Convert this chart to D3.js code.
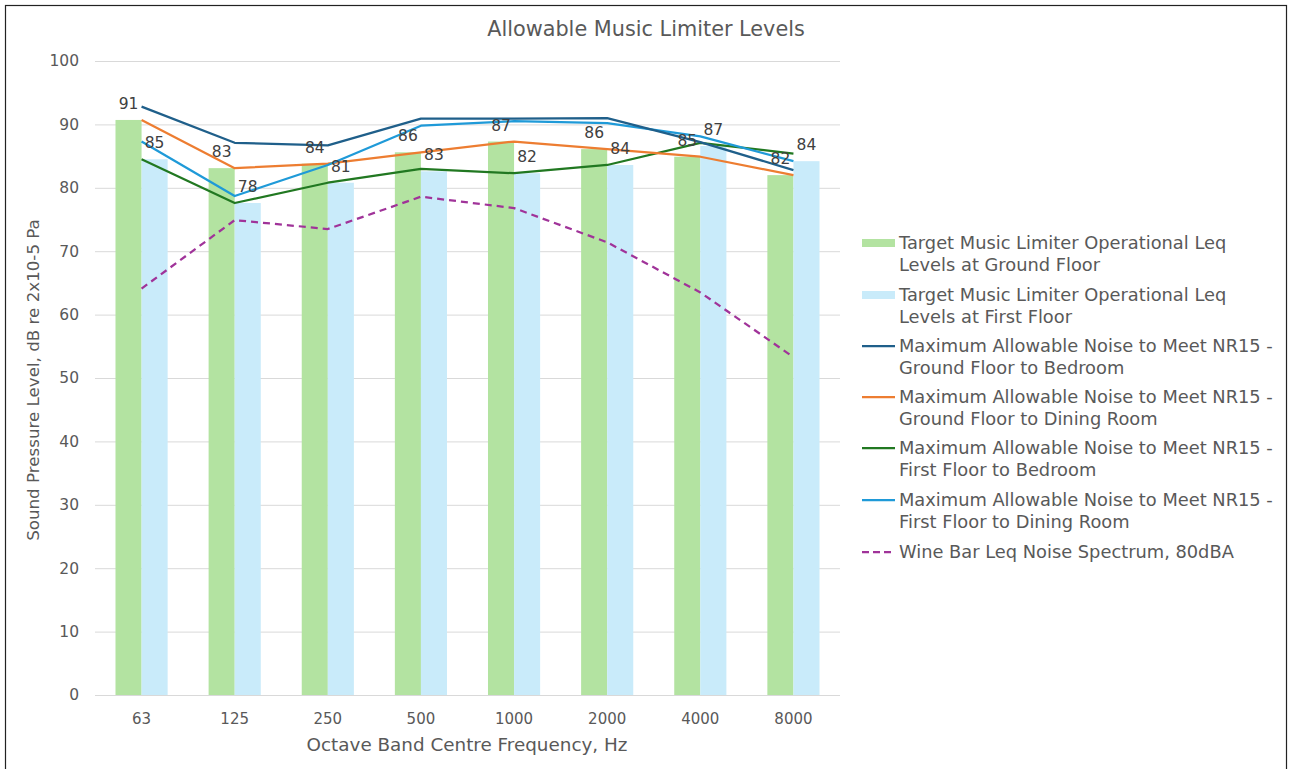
<!DOCTYPE html>
<html><head><meta charset="utf-8">
<script src="https://cdn.jsdelivr.net/npm/d3@7/dist/d3.min.js"></script>
<style>
html,body{margin:0;padding:0;background:#fff;}
svg{display:block;font-family:"DejaVu Sans",sans-serif;}
</style></head>
<body><svg id="c" width="1289" height="769"></svg>
<script>
const categories = ["63","125","250","500","1000","2000","4000","8000"];
const yTicks = [0,10,20,30,40,50,60,70,80,90,100];
const groundFloorTarget = [90.7, 83.1, 83.8, 85.6, 87.3, 86.1, 84.9, 82.0];
const firstFloorTarget  = [84.5, 77.6, 80.8, 82.6, 82.3, 83.6, 86.6, 84.2];
const gfBedroom   = [92.8, 87.1, 86.7, 90.9, 90.9, 91.0, 87.2, 82.8];
const gfDining    = [90.7, 83.1, 83.8, 85.6, 87.3, 86.1, 84.9, 82.0];
const ffBedroom   = [84.5, 77.6, 80.8, 83.0, 82.3, 83.6, 87.1, 85.4];
const ffDining    = [87.3, 78.7, 83.6, 89.8, 90.5, 90.2, 88.1, 84.2];
const wineBar     = [64.1, 74.9, 73.5, 78.6, 76.8, 71.4, 63.5, 53.3];
const legendLabels = [
  ["Target Music Limiter Operational Leq","Levels at Ground Floor"],
  ["Target Music Limiter Operational Leq","Levels at First Floor"],
  ["Maximum Allowable Noise to Meet NR15 -","Ground Floor to Bedroom"],
  ["Maximum Allowable Noise to Meet NR15 -","Ground Floor to Dining Room"],
  ["Maximum Allowable Noise to Meet NR15 -","First Floor to Bedroom"],
  ["Maximum Allowable Noise to Meet NR15 -","First Floor to Dining Room"],
  ["Wine Bar Leq Noise Spectrum, 80dBA"]
];

const svg = d3.select("#c");
const txt = "#595959";
const L=95, R=840, T=61, B=695;

// font size that makes a string a given width
function fitSize(str, target, base){
  const t = svg.append("text").attr("font-size",base).text(str);
  const w = t.node().getComputedTextLength();
  t.remove();
  return base*target/w;
}
const legendSize = fitSize("Maximum Allowable Noise to Meet NR15 -", 374, 16);
const titleSize = fitSize("Allowable Music Limiter Levels", 318, 19);
const xTitleSize = fitSize("Octave Band Centre Frequency, Hz", 321, 15);
const yTitleSize = fitSize("Sound Pressure Level, dB re 2x10-5 Pa", 322, 15);

svg.append("rect").attr("x",5.5).attr("y",5.5).attr("width",1281).attr("height",800)
  .attr("fill","none").attr("stroke","#222").attr("stroke-width",1.2);

const x = d3.scaleBand().domain(categories).range([L,R]).paddingInner(0.44).paddingOuter(0.22);
const y = d3.scaleLinear().domain([0,100]).range([B,T]);
const cx = c => x(c) + x.bandwidth()/2;

// gridlines
svg.append("g").selectAll("line").data(yTicks).join("line")
  .attr("x1",L).attr("x2",R).attr("y1",d=>y(d)+0.5).attr("y2",d=>y(d)+0.5)
  .attr("stroke","#d9d9d9").attr("stroke-width",1);

// y tick labels
svg.append("g").selectAll("text").data(yTicks).join("text")
  .attr("x",79).attr("y",d=>y(d)).attr("dy","0.35em").attr("text-anchor","end")
  .attr("fill",txt).attr("font-size",15.5).text(d=>d);

// x tick labels
svg.append("g").selectAll("text").data(categories).join("text")
  .attr("x",d=>cx(d)).attr("y",719).attr("dy","0.35em").attr("text-anchor","middle")
  .attr("fill",txt).attr("font-size",15).text(d=>d);

// bars
const bw = x.bandwidth()/2;
const gG = svg.append("g");
gG.selectAll("rect.g").data(categories).join("rect").attr("class","g")
  .attr("x",(d)=>x(d)).attr("width",bw)
  .attr("y",(d,i)=>y(groundFloorTarget[i])).attr("height",(d,i)=>B-y(groundFloorTarget[i]))
  .attr("fill","#b3e3a1");
gG.selectAll("rect.b").data(categories).join("rect").attr("class","b")
  .attr("x",(d)=>x(d)+bw).attr("width",bw)
  .attr("y",(d,i)=>y(firstFloorTarget[i])).attr("height",(d,i)=>B-y(firstFloorTarget[i]))
  .attr("fill","#c9ebfa");

// lines
const lineSeries = [
  {v:ffBedroom, c:"#217821", dash:null},
  {v:gfDining, c:"#ed7d31", dash:null},
  {v:ffDining, c:"#1f9ad8", dash:null},
  {v:gfBedroom, c:"#1f5f8a", dash:null},
  {v:wineBar, c:"#a03399", dash:"7,5"}
];
const line = d3.line().x(d=>cx(d.c)).y(d=>y(d.v));
lineSeries.forEach(s=>{
  svg.append("path").datum(categories.map((c,i)=>({c, v:s.v[i]})))
    .attr("d",line).attr("fill","none").attr("stroke",s.c).attr("stroke-width",2.25)
    .attr("stroke-dasharray",s.dash).attr("stroke-linejoin","round");
});

// data labels
const fmt = d3.format(".0f");
const lab = svg.append("g").attr("fill","#404040").attr("font-size",15.5).attr("text-anchor","middle");
lab.selectAll("text.g").data(categories).join("text").attr("class","g")
  .attr("x",d=>x(d)+bw/2).attr("y",(d,i)=>y(groundFloorTarget[i])-11).text((d,i)=>fmt(groundFloorTarget[i]));
lab.selectAll("text.b").data(categories).join("text").attr("class","b")
  .attr("x",d=>x(d)+bw*1.5).attr("y",(d,i)=>y(firstFloorTarget[i])-11).text((d,i)=>fmt(firstFloorTarget[i]));

// titles
svg.append("text").attr("x",646).attr("y",29).attr("dy","0.35em").attr("text-anchor","middle")
  .attr("fill",txt).attr("font-size",titleSize).text("Allowable Music Limiter Levels");
svg.append("text").attr("x",467).attr("y",745).attr("dy","0.35em").attr("text-anchor","middle")
  .attr("fill",txt).attr("font-size",xTitleSize).text("Octave Band Centre Frequency, Hz");
svg.append("text").attr("transform","translate(33,380) rotate(-90)").attr("dy","0.35em")
  .attr("text-anchor","middle").attr("fill",txt).attr("font-size",yTitleSize)
  .text("Sound Pressure Level, dB re 2x10-5 Pa");

// legend
const legY = [243, 295, 346, 397, 448, 500, 552];
const legCols = ["#b3e3a1","#c9ebfa","#1f5f8a","#ed7d31","#217821","#1f9ad8","#a03399"];
const leg = svg.append("g");
legendLabels.forEach((lines,i)=>{
  const yy = legY[i];
  if (i<2) {
    leg.append("rect").attr("x",862).attr("y",yy-4).attr("width",33).attr("height",8)
      .attr("fill", legCols[i]);
  } else {
    leg.append("line").attr("x1",862).attr("x2",895).attr("y1",yy).attr("y2",yy)
      .attr("stroke",legCols[i]).attr("stroke-width",2.25).attr("stroke-dasharray", i===6 ? "7,4" : null);
  }
  lines.forEach((t,j)=>{
    leg.append("text").attr("x",899).attr("y",yy+j*22).attr("dy","0.35em")
      .attr("fill",txt).attr("font-size",legendSize).text(t);
  });
});
</script></body></html>
